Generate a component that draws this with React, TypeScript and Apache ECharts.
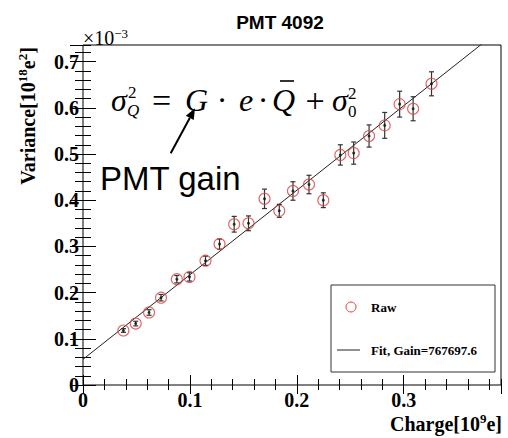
import React, { useEffect, useRef } from "react";
import * as echarts from "echarts";

const chargeX = [0.0378, 0.0493, 0.0618, 0.073, 0.0878, 0.0996, 0.1146, 0.1277, 0.1414, 0.1548, 0.1698, 0.1836, 0.1964, 0.2114, 0.2248, 0.2407, 0.2532, 0.2676, 0.2822, 0.2962, 0.3088, 0.326];
const varianceY = [0.118, 0.133, 0.157, 0.189, 0.229, 0.234, 0.269, 0.305, 0.348, 0.35, 0.403, 0.377, 0.42, 0.434, 0.4, 0.498, 0.502, 0.539, 0.562, 0.608, 0.598, 0.652];
const varianceErr = [0.004, 0.005, 0.006, 0.007, 0.008, 0.009, 0.01, 0.011, 0.017, 0.016, 0.021, 0.014, 0.02, 0.02, 0.016, 0.022, 0.024, 0.024, 0.028, 0.028, 0.026, 0.026];
const fitX = [0, 0.391];
const fitY = [0.0556, 0.771];
const xTickLabels = ["0", "0.1", "0.2", "0.3"];
const yTickLabels = ["0", "0.1", "0.2", "0.3", "0.4", "0.5", "0.6", "0.7"];
const X_MAX = 0.391;
const Y_MAX = 0.736;

const SERIF = "Liberation Serif";
const SANS = "Liberation Sans";

function labelFor(list: string[], v: number) {
  const k = Math.round(v * 10);
  if (Math.abs(v * 10 - k) > 1e-6) return "";
  return list[k] ?? "";
}

export default function App() {
  const ref = useRef<HTMLDivElement>(null);
  useEffect(() => {
    if (!ref.current) return;
    const chart = echarts.init(ref.current, undefined, { renderer: "svg" });
    const points = chargeX.map((x, i) => [x, varianceY[i], varianceErr[i]]);
    const fitData = fitX.map((x, i) => [x, fitY[i]]);

    const mkX = (pos: string, interval: number, len: number, labels: boolean) => ({
      type: "value",
      min: 0,
      max: X_MAX,
      interval,
      position: pos,
      axisLine: { show: false },
      axisTick: { show: true, inside: true, length: len, lineStyle: { color: "#000", width: 1 } },
      axisLabel: labels
        ? {
            show: true,
            margin: 5,
            fontFamily: SERIF,
            fontWeight: "bold",
            fontSize: 20,
            color: "#000",
            showMaxLabel: false,
            formatter: (v: number) => labelFor(xTickLabels, v),
          }
        : { show: false },
      splitLine: { show: false },
    });
    const mkY = (pos: string, interval: number, len: number, labels: boolean) => ({
      type: "value",
      min: 0,
      max: Y_MAX,
      interval,
      position: pos,
      axisLine: { show: false },
      axisTick: { show: true, inside: true, length: len, lineStyle: { color: "#000", width: 1 } },
      axisLabel: labels
        ? {
            show: true,
            margin: 4,
            fontFamily: SERIF,
            fontWeight: "bold",
            fontSize: 20,
            color: "#000",
            showMaxLabel: false,
            formatter: (v: number) => labelFor(yTickLabels, v),
          }
        : { show: false },
      splitLine: { show: false },
    });

    const mathText = (text: string, x: number, y: number, size: number, italic: boolean, align = "left") => ({
      type: "text",
      x,
      y,
      z: 100,
      style: {
        text,
        fontFamily: SERIF,
        fontSize: size,
        fontStyle: italic ? "italic" : "normal",
        fill: "#000",
        align,
        verticalAlign: "middle",
      },
    });

    // arrow geometry
    const tail = [170.7, 153.3];
    const tip = [195, 108.3];
    const dx = tip[0] - tail[0], dy = tip[1] - tail[1];
    const L = Math.hypot(dx, dy);
    const ux = dx / L, uy = dy / L;
    const hl = 11, hw = 4.5;
    const bx = tip[0] - ux * hl, by = tip[1] - uy * hl;
    const px = -uy, py = ux;

    const option: any = {
      animation: false,
      backgroundColor: "#fff",
      title: {
        text: "PMT 4092",
        left: 275,
        top: 8,
        textAlign: "center",
        textStyle: { fontFamily: SANS, fontWeight: "bold", fontSize: 19, color: "#000" },
      },
      grid: { left: 83, right: 7, top: 45, bottom: 53, show: true, borderColor: "#000", borderWidth: 1, backgroundColor: "transparent" },
      xAxis: [mkX("bottom", 0.1, 10, true), mkX("bottom", 0.02, 6, false), mkX("top", 0.1, 9, false), mkX("top", 0.02, 5, false)],
      yAxis: [mkY("left", 0.1, 13, true), mkY("left", 0.02, 8, false), mkY("right", 0.1, 13, false), mkY("right", 0.02, 8, false)],
      series: [
        {
          name: "Fit",
          type: "line",
          data: fitData,
          showSymbol: false,
          clip: true,
          lineStyle: { color: "#222", width: 1 },
          z: 2,
        },
        {
          name: "err",
          type: "custom",
          data: points,
          clip: true,
          z: 3,
          renderItem: (params: any, api: any) => {
            const x = api.value(0), y = api.value(1), e = api.value(2);
            const top = api.coord([x, y + e]);
            const bot = api.coord([x, y - e]);
            const c = 2.5;
            const st = { stroke: "#333", lineWidth: 1.2 };
            return {
              type: "group",
              children: [
                { type: "line", shape: { x1: top[0], y1: top[1], x2: bot[0], y2: bot[1] }, style: st },
                { type: "line", shape: { x1: top[0] - c, y1: top[1], x2: top[0] + c, y2: top[1] }, style: st },
                { type: "line", shape: { x1: bot[0] - c, y1: bot[1], x2: bot[0] + c, y2: bot[1] }, style: st },
              ],
            };
          },
        },
        {
          name: "Raw",
          type: "scatter",
          data: points.map((p) => [p[0], p[1]]),
          symbol: "circle",
          symbolSize: 11,
          itemStyle: { color: "rgba(255,255,255,0)", borderColor: "#d84040", borderWidth: 1.1 },
          z: 4,
        },
        {
          name: "dot",
          type: "scatter",
          data: points.map((p) => [p[0], p[1]]),
          symbol: "circle",
          symbolSize: 3,
          itemStyle: { color: "#111" },
          z: 5,
        },
      ],
      graphic: [
        // x10^-3
        {
          type: "text",
          x: 83,
          y: 38,
          style: {
            text: "×10{s|−3}",
            fontFamily: SERIF,
            fontSize: 20,
            fill: "#000",
            align: "left",
            verticalAlign: "middle",
            lineHeight: 22,
            rich: { s: { fontSize: 13, fontFamily: SERIF, verticalAlign: "top" } },
          },
        },
        // y-axis title
        {
          type: "text",
          x: 28,
          y: 116,
          rotation: Math.PI / 2,
          style: {
            text: "Variance[10{s|18}e{s|2}]",
            fontFamily: SERIF,
            fontWeight: "bold",
            fontSize: 20,
            fill: "#000",
            align: "center",
            verticalAlign: "middle",
            lineHeight: 24,
            rich: { s: { fontSize: 13, fontWeight: "bold", fontFamily: SERIF, verticalAlign: "top" } },
          },
        },
        // x-axis title
        {
          type: "text",
          x: 502,
          y: 424,
          style: {
            text: "Charge[10{s|9}e]",
            fontFamily: SERIF,
            fontWeight: "bold",
            fontSize: 20,
            fill: "#000",
            align: "right",
            verticalAlign: "middle",
            lineHeight: 24,
            rich: { s: { fontSize: 13, fontWeight: "bold", fontFamily: SERIF, verticalAlign: "top" } },
          },
        },
        // equation
        mathText("σ", 111, 100, 32, true),
        mathText("2", 128, 92, 17, false),
        mathText("Q", 127, 110, 17, true),
        mathText("=", 161.5, 100, 34, false, "center"),
        mathText("G", 185, 100, 32, true),
        mathText("·", 222, 100, 32, false, "center"),
        mathText("e", 239, 100, 32, true),
        mathText("·", 263, 100, 32, false, "center"),
        mathText("Q", 272, 100, 32, true),
        { type: "line", z: 100, shape: { x1: 280, y1: 81, x2: 294, y2: 81 }, style: { stroke: "#000", lineWidth: 1.6 } },
        mathText("+", 315, 100, 34, false, "center"),
        mathText("σ", 332, 100, 32, true),
        mathText("2", 348, 93, 17, false),
        mathText("0", 348, 111, 17, false),
        // PMT gain
        {
          type: "text",
          x: 100,
          y: 178,
          z: 100,
          style: { text: "PMT gain", fontFamily: SANS, fontSize: 33, fill: "#000", align: "left", verticalAlign: "middle" },
        },
        // arrow
        {
          type: "line",
          z: 100,
          shape: { x1: tail[0], y1: tail[1], x2: bx, y2: by },
          style: { stroke: "#000", lineWidth: 2 },
        },
        {
          type: "polygon",
          z: 100,
          shape: { points: [[tip[0], tip[1]], [bx + px * hw, by + py * hw], [bx - px * hw, by - py * hw]] },
          style: { fill: "#000" },
        },
        // legend
        {
          type: "rect",
          z: 50,
          shape: { x: 331, y: 285, width: 164, height: 87 },
          style: { fill: "#fff", stroke: "#333", lineWidth: 1 },
        },
        { type: "circle", z: 51, shape: { cx: 351, cy: 307, r: 5 }, style: { fill: "none", stroke: "#d84040", lineWidth: 1 } },
        {
          type: "text",
          z: 51,
          x: 371,
          y: 307,
          style: { text: "Raw", fontFamily: SERIF, fontWeight: "bold", fontSize: 13, fill: "#000", align: "left", verticalAlign: "middle" },
        },
        { type: "line", z: 51, shape: { x1: 337, y1: 350, x2: 360, y2: 350 }, style: { stroke: "#222", lineWidth: 1 } },
        {
          type: "text",
          z: 51,
          x: 371,
          y: 350,
          style: { text: "Fit, Gain=767697.6", fontFamily: SERIF, fontWeight: "bold", fontSize: 13, fill: "#000", align: "left", verticalAlign: "middle" },
        },
      ],
    };
    chart.setOption(option);
    return () => chart.dispose();
  }, []);
  return <div ref={ref} style={{ position: "fixed", left: 0, top: 0, width: 508, height: 438 }} />;
}
